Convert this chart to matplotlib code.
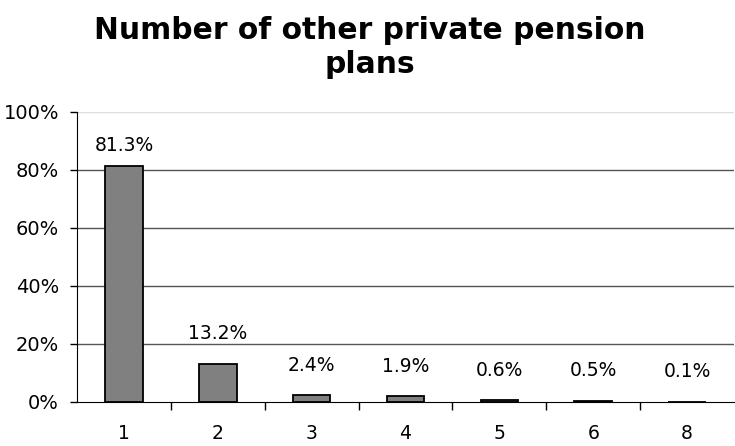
import matplotlib
matplotlib.use("Agg")
import matplotlib.pyplot as plt
from matplotlib.ticker import PercentFormatter, FixedLocator

categories = ["1", "2", "3", "4", "5", "6", "8"]
values = [81.3, 13.2, 2.4, 1.9, 0.6, 0.5, 0.1]
labels = ["81.3%", "13.2%", "2.4%", "1.9%", "0.6%", "0.5%", "0.1%"]

fig = plt.figure(figsize=(7.35, 4.46), dpi=100)
ax = fig.add_axes([0.1048, 0.0987, 0.8938, 0.6503])

x = range(len(categories))
ax.bar(x, values, width=0.4, color="#808080", edgecolor="black", linewidth=1.3, zorder=3)
ax.set_xlim(-0.5, len(categories) - 0.5)
ax.set_ylim(0, 100)
ax.set_yticks([0, 20, 40, 60, 80, 100])
ax.yaxis.set_major_formatter(PercentFormatter(decimals=0))
for y in [20, 40, 60, 80]:
    ax.axhline(y, color="#555555", linewidth=1, zorder=1)
ax.axhline(100, color="#dddddd", linewidth=1, zorder=1)

ax.set_xticks(list(x))
ax.set_xticklabels(categories)
ax.xaxis.set_minor_locator(FixedLocator([i + 0.5 for i in range(len(categories) - 1)]))
ax.tick_params(axis="x", which="major", length=0, pad=16, labelsize=13.5)
ax.tick_params(axis="x", which="minor", length=6, width=1, direction="out")
ax.tick_params(axis="y", length=5, width=1, direction="out", labelsize=14, pad=8)

for s in ["top", "right"]:
    ax.spines[s].set_visible(False)
ax.spines["left"].set_color("black")
ax.spines["bottom"].set_color("black")

for i, (v, lab) in enumerate(zip(values, labels)):
    off = 15 if v > 70 else 21.5
    ax.annotate(lab, (i, v), xytext=(0, off), textcoords="offset points",
                ha="center", va="center", fontsize=13.5)

fig.text(0.503, 0.8935, "Number of other private pension\nplans", ha="center", va="center",
         fontsize=21.4, fontweight="bold", linespacing=1.24)

fig.savefig("out.png", dpi=100)
